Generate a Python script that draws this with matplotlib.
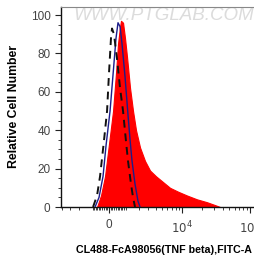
import numpy as np
import matplotlib
matplotlib.use("Agg")
import matplotlib.pyplot as plt

# Display-channel positions (logicle-like transformed units) and relative counts
red_x = [-0.164, -0.110, -0.055, 0.0, 0.055, 0.096, 0.123, 0.151, 0.164, 0.192, 0.219, 0.247,
         0.288, 0.329, 0.370, 0.425, 0.493, 0.562, 0.644, 0.740, 0.836, 0.945, 1.068, 1.205,
         1.342, 1.452, 1.521]
red_y = [0, 6, 16, 33, 50, 70, 85, 94, 97, 96, 88, 78, 62, 50, 40, 31, 24, 19, 16, 13, 10, 8,
         6, 4, 2.5, 1, 0]

blue_x = [-0.192, -0.137, -0.082, -0.041, 0.014, 0.068, 0.096, 0.123, 0.151, 0.178, 0.219,
          0.260, 0.288, 0.315, 0.356, 0.397, 0.425]
blue_y = [0, 5, 16, 32, 50, 75, 88, 96, 94, 85, 68, 48, 35, 24, 12, 3, 0]

dash_x = [-0.219, -0.164, -0.123, -0.068, -0.027, 0.0, 0.027, 0.041, 0.068, 0.110, 0.151,
          0.192, 0.233, 0.260, 0.301, 0.329, 0.356]
dash_y = [0, 6, 16, 35, 50, 70, 88, 93, 90, 77, 62, 50, 34, 24, 12, 5, 0]

major_vals = [0, 1e4, 1e5]
major_labels = ["0", "$10^4$", "$10^5$"]
minor_vals = ([-v for v in range(100, 1000, 100)] + [-1000, -2000, -3000, -4000] +
              list(range(100, 1000, 100)) + list(range(1000, 10000, 1000)) +
              list(range(20000, 100000, 10000)))

C, K = 1695.0, 2.476
def fwd(v):
    return np.arcsinh(np.asarray(v, dtype=float) / C) / K

fig = plt.figure(figsize=(2.55, 2.62), dpi=100)
ax = fig.add_axes([61/255, 1-207/262, 1-61/255, 200/262])

ax.fill_between(red_x, red_y, 0, color="#ff0000", linewidth=0.8, zorder=2)
ax.plot(blue_x, blue_y, color="#1c1c8a", linewidth=1.0, zorder=3)
ax.plot(dash_x, dash_y, color="#111111", linewidth=1.4, linestyle=(0, (4, 3)), zorder=4)

ax.set_xlim(-0.658, 2.0)
ax.set_ylim(0, 104.2)

ax.set_xticks(fwd(major_vals))
ax.set_xticklabels(major_labels)
ax.set_xticks(fwd(minor_vals), minor=True)
ax.set_yticks([0, 20, 40, 60, 80, 100])
ax.set_yticks(np.arange(0, 105, 5), minor=True)

ax.tick_params(axis="both", which="major", direction="out", length=4, width=0.8,
               labelsize=8.5, labelcolor="#444444", color="#222222")
ax.tick_params(axis="x", which="major", pad=5)
ax.tick_params(axis="both", which="minor", direction="out", length=2, width=0.6, color="#222222")
for lab in ax.get_xticklabels() + ax.get_yticklabels():
    lab.set_family("Liberation Sans")

for s in ["top", "right"]:
    ax.spines[s].set_color("#888888")
    ax.spines[s].set_linewidth(0.8)
for s in ["left", "bottom"]:
    ax.spines[s].set_color("#111111")
    ax.spines[s].set_linewidth(1.0)

ax.set_ylabel("Relative Cell Number", fontsize=8.8, fontweight="bold",
              family="Liberation Sans", labelpad=8)
xl = ax.set_xlabel("CL488-FcA98056(TNF beta),FITC-A", fontsize=7.7, fontweight="bold",
                   family="Liberation Sans", labelpad=7)
ax.xaxis.set_label_coords(0.53, -0.19)

ax.text(0.065, 0.955, "WWW.PTGLAB.COM", transform=ax.transAxes, fontsize=13.5,
        color="#dcdcdc", style="italic", family="Liberation Sans", va="center", ha="left",
        zorder=1)

fig.savefig("out.png", dpi=100)
